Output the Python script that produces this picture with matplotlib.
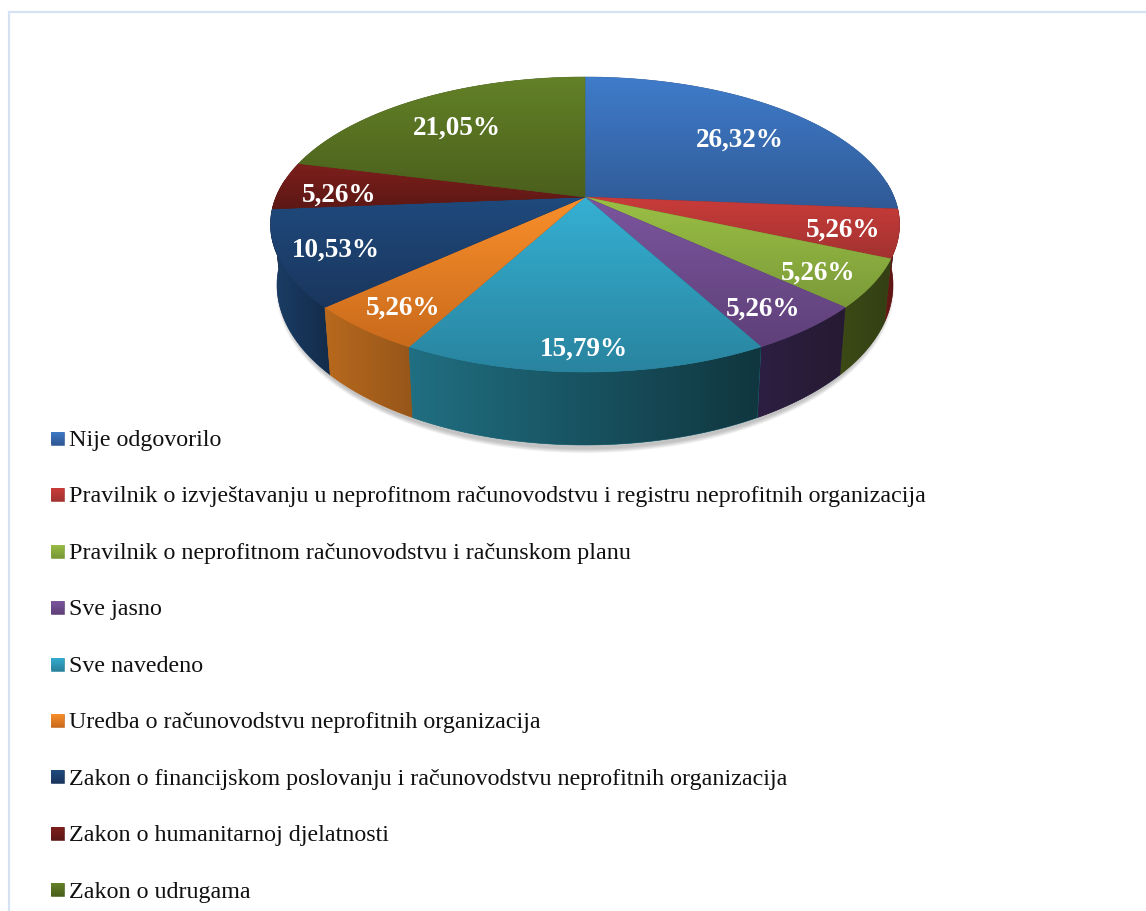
import numpy as np
import matplotlib
matplotlib.use("Agg")
import matplotlib.pyplot as plt
from matplotlib.path import Path
from matplotlib.patches import PathPatch, Ellipse, Rectangle
from matplotlib.colors import LinearSegmentedColormap

labels = ["Nije odgovorilo",
          "Pravilnik o izvještavanju u neprofitnom računovodstvu i registru neprofitnih organizacija",
          "Pravilnik o neprofitnom računovodstvu i računskom planu",
          "Sve jasno",
          "Sve navedeno",
          "Uredba o računovodstvu neprofitnih organizacija",
          "Zakon o financijskom poslovanju i računovodstvu neprofitnih organizacija",
          "Zakon o humanitarnoj djelatnosti",
          "Zakon o udrugama"]
values = [26.32, 5.26, 5.26, 5.26, 15.79, 5.26, 10.53, 5.26, 21.05]

# gradient ends for top faces and side faces
top_light = ["#3f7ccb", "#c93c3a", "#9bc045", "#7b559e", "#35b0d3", "#f98f2b", "#1f4a7d", "#7d1f1c", "#638127"]
top_dark = ["#305a96", "#a23230", "#7a9a38", "#5f4079", "#29849f", "#c96a1c", "#1a365e", "#5c1815", "#4a5f1c"]
side_left = ["#1c3a63", "#6b1a18", "#3c4a16", "#2c1f42", "#206f82", "#b8691d", "#1b3e66", "#5c1815", "#3c4a16"]
side_right = ["#1c3a63", "#4e1210", "#333f14", "#261a33", "#10363f", "#96561a", "#132b4a", "#5c1815", "#3c4a16"]

# where the percent labels sit, in pixels
label_xy = [(740, 140), (843, 230), (818, 273), (763, 309), (584, 349),
            (403, 308), (336, 250), (339, 195), (457, 128)]

W, H = 1146, 912
cx = 585
top_cy, top_rx, top_ry = 225.5, 314.5, 147.5
bot_cy, bot_rx, bot_ry = 286, 308, 160
apex_y = 198
v0 = (apex_y - top_cy) / top_ry


# circle angle (clockwise from 12 o'clock) to perspective position on the unit ellipse
def persp(theta):
    u = np.sin(theta)
    v = -np.cos(theta)
    d = 1 + v * v0
    return u * np.sqrt(1 - v0 ** 2) / d, (v + v0) / d


def gradient_fill(ax, path, c1, c2, vertical=True, z=2):
    cmap = LinearSegmentedColormap.from_list("g", [c1, c2])
    x0, y0 = path.vertices.min(axis=0)
    x1, y1 = path.vertices.max(axis=0)
    g = np.linspace(0, 1, 256)
    g = g.reshape(-1, 1) if vertical else g.reshape(1, -1)
    # solid patch underneath so the clipped image leaves no pale gap at its edge
    base = c2 if vertical else c1
    edge = PathPatch(path, facecolor=base, edgecolor=base, lw=0.4, zorder=z)
    ax.add_patch(edge)
    im = ax.imshow(g, cmap=cmap, extent=(x0, x1, y1, y0), aspect="auto", zorder=z + 0.001,
                   interpolation="nearest", vmin=0, vmax=1)
    im.set_clip_path(edge)


fig = plt.figure(figsize=(W / 100, H / 100), dpi=100)
ax = fig.add_axes([0, 0, 1, 1])
plt.rcParams["font.family"] = "Liberation Serif"

# frame of the page, only left and top are in the picture
ax.add_patch(Rectangle((9, 13), 1300, 1000, facecolor="white", edgecolor="#d5e2f3", lw=1.6, zorder=0))

# soft shadow under the pie
for i in range(8):
    ax.add_patch(Ellipse((cx, bot_cy + 4), 2 * bot_rx - 6 + i * 1.2, 2 * bot_ry + i * 1.2,
                         facecolor="black", edgecolor="none", alpha=0.03, zorder=1))

edges = np.cumsum([0] + values) / sum(values) * 2 * np.pi

# side walls first, back ones before front ones
walls = []
for i in range(len(values)):
    t = np.linspace(edges[i], edges[i + 1], 80)
    u, v = persp(t)
    keep = v > -0.3
    if keep.sum() < 2:
        continue
    top = np.column_stack([cx + top_rx * u[keep], top_cy + top_ry * v[keep]])
    bot = np.column_stack([cx + bot_rx * u[keep], bot_cy + bot_ry * v[keep]])
    path = Path(np.vstack([top, bot[::-1], top[:1]]), closed=True)
    walls.append((v[keep].mean(), i, path))

walls.sort(key=lambda w: w[0])
for n, (depth, i, path) in enumerate(walls):
    gradient_fill(ax, path, side_left[i], side_right[i], vertical=False, z=2 + 0.01 * n)

# top faces
for i in range(len(values)):
    t = np.linspace(edges[i], edges[i + 1], 120)
    u, v = persp(t)
    pts = np.column_stack([cx + top_rx * u, top_cy + top_ry * v])
    path = Path(np.vstack([[cx, apex_y], pts, [cx, apex_y]]), closed=True)
    gradient_fill(ax, path, top_light[i], top_dark[i], z=3 + 0.01 * i)

for i, val in enumerate(values):
    txt = f"{val:.2f}%".replace(".", ",")
    ax.text(label_xy[i][0], label_xy[i][1], txt, color="white", fontsize=19.5, fontweight="bold",
            family="Liberation Serif", ha="center", va="center", zorder=5)

# legend
for i, lab in enumerate(labels):
    y = 439 + i * 56.5
    sq = Path([(51, y - 6.5), (64, y - 6.5), (64, y + 6.5), (51, y + 6.5), (51, y - 6.5)], closed=True)
    gradient_fill(ax, sq, top_light[i], top_dark[i], z=4)
    ax.text(69, y + 1.5, lab, color="#111111", fontsize=17.25, family="Liberation Serif", ha="left", va="center", zorder=5)

ax.set_xlim(0, W)
ax.set_ylim(H, 0)
ax.axis("off")
fig.savefig("out.png", dpi=100, facecolor="white")
